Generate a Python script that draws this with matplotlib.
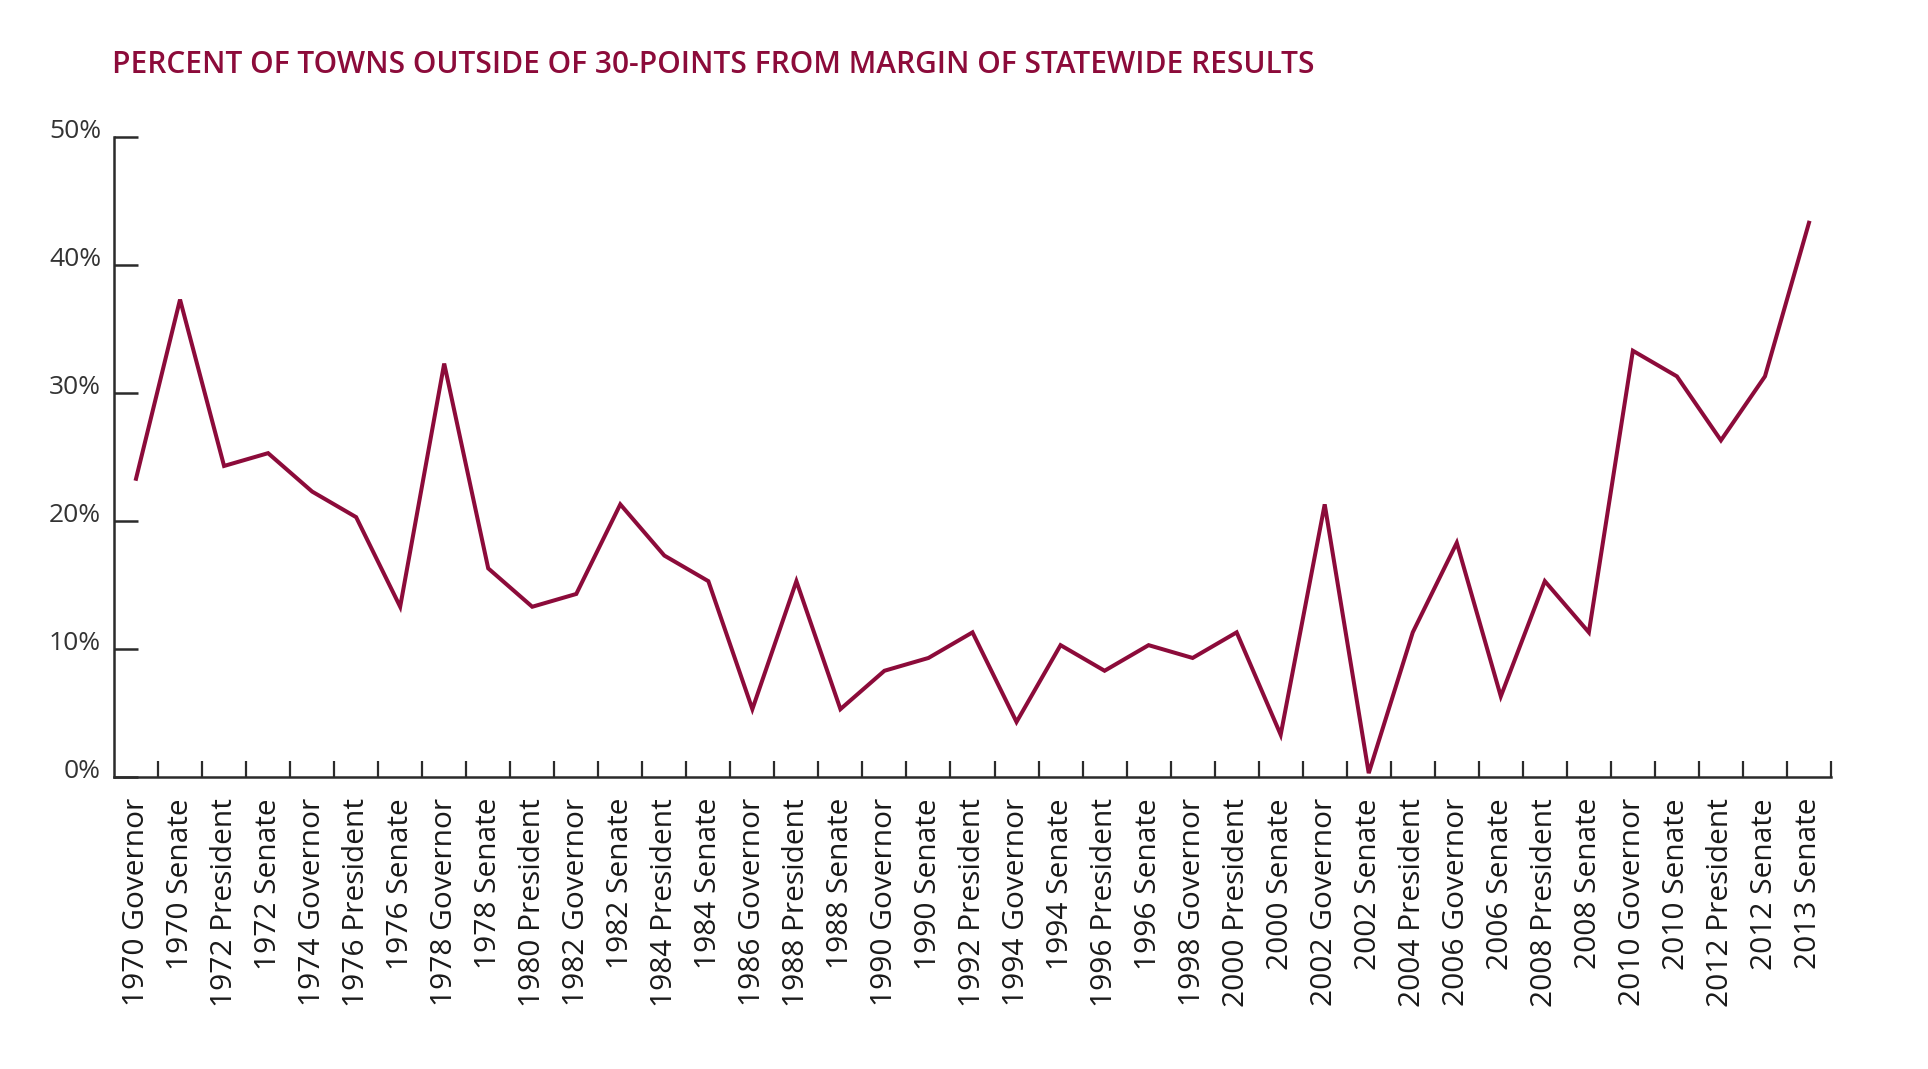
import matplotlib
matplotlib.use("Agg")
import matplotlib.pyplot as plt
from matplotlib.transforms import ScaledTranslation

# ---------------- datos ----------------
elecciones = [
    "1970 Governor", "1970 Senate", "1972 President", "1972 Senate",
    "1974 Governor", "1976 President", "1976 Senate", "1978 Governor",
    "1978 Senate", "1980 President", "1982 Governor", "1982 Senate",
    "1984 President", "1984 Senate", "1986 Governor", "1988 President",
    "1988 Senate", "1990 Governor", "1990 Senate", "1992 President",
    "1994 Governor", "1994 Senate", "1996 President", "1996 Senate",
    "1998 Governor", "2000 President", "2000 Senate", "2002 Governor",
    "2002 Senate", "2004 President", "2006 Governor", "2006 Senate",
    "2008 President", "2008 Senate", "2010 Governor", "2010 Senate",
    "2012 President", "2012 Senate", "2013 Senate",
]
porcentaje = [
    23.3, 37.3, 24.3, 25.3, 22.3, 20.3, 13.3, 32.3, 16.3, 13.3,
    14.3, 21.3, 17.3, 15.3, 5.3, 15.3, 5.3, 8.3, 9.3, 11.3,
    4.3, 10.3, 8.3, 10.3, 9.3, 11.3, 3.3, 21.3, 0.3, 11.3,
    18.3, 6.3, 15.3, 11.3, 33.3, 31.3, 26.3, 31.3, 43.3,
]
marcas_y = [0, 10, 20, 30, 40, 50]
titulo = "PERCENT OF TOWNS OUTSIDE OF 30-POINTS FROM MARGIN OF STATEWIDE RESULTS"

rojo = "#8c0b3a"
gris = "#2b2b2b"

plt.rcParams['font.family'] = ['Open Sans', 'DejaVu Sans']

fig = plt.figure(figsize=(19.28, 10.69), dpi=100)
# eje: x de 114 a 1831 px, y de 777 (0%) a 137 (50%)
ax = fig.add_axes([114/1928, 1 - 777/1069, (1831 - 114)/1928, (777 - 137)/1069])

n = len(elecciones)
posiciones = [i + 0.5 for i in range(n)]
ax.plot(posiciones, porcentaje, color=rojo, lw=2.9, solid_joinstyle='miter')

ax.set_xlim(0, n)
ax.set_ylim(0, 50)

for lado in ["top", "right"]:
    ax.spines[lado].set_visible(False)
for lado in ["left", "bottom"]:
    ax.spines[lado].set_color(gris)
    ax.spines[lado].set_linewidth(1.8)

# ticks x: divisiones entre categorias, etiquetas en el centro
ax.set_xticks(range(1, n + 1))
ax.set_xticklabels([])
ax.tick_params(axis='x', which='major', direction='in', length=16/1.389,
               width=1.6, color=gris)
ax.set_xticks(posiciones, minor=True)
ax.set_xticklabels(elecciones, minor=True, rotation=90, fontsize=21.5,
                   color="#1a1a1a", va='top', ha='center')
ax.tick_params(axis='x', which='minor', length=0, pad=21/1.389)

# ticks y
ax.set_yticks(marcas_y)
ax.set_yticklabels([f"{v}%" for v in marcas_y], fontsize=19, color="#333333")
ax.tick_params(axis='y', direction='in', length=24/1.389, width=1.8,
               color=gris, pad=13/1.389)
for etiqueta in ax.get_yticklabels():
    etiqueta.set_transform(etiqueta.get_transform() +
                           ScaledTranslation(0, 9/100, fig.dpi_scale_trans))

fig.text(112/1928, 1 - 73/1069, titulo, color=rojo, fontsize=21.5,
         fontweight='semibold', ha='left', va='baseline')

fig.savefig("out.png", dpi=100)
